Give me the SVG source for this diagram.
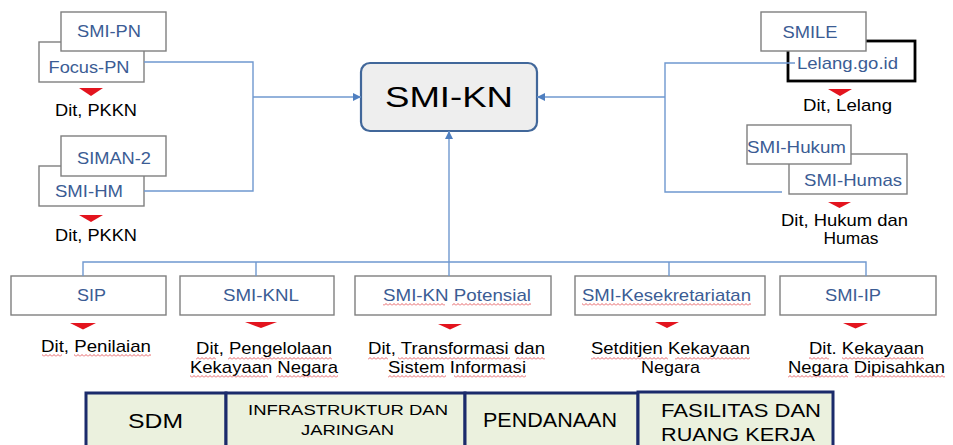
<svg xmlns="http://www.w3.org/2000/svg" width="953" height="445" viewBox="0 0 953 445">
<style>
.bx{fill:#ffffff;stroke:#7f7f7f;stroke-width:1.4}
.bt{font-family:"Liberation Sans",Arial,sans-serif;font-size:17px;fill:#3b5c94;text-anchor:middle}
.lb{font-family:"Liberation Sans",Arial,sans-serif;font-size:17px;fill:#000000;text-anchor:middle}
.tri{fill:#e3141e}
.cn{fill:none;stroke:#6f98cf;stroke-width:1.4}
.cell{fill:#ebf1de;stroke:#1b2b6b;stroke-width:3}
.ct{font-family:"Liberation Sans",Arial,sans-serif;fill:#000000;text-anchor:middle}
.sq{fill:url(#wave)}
</style>
<defs>
<marker id="ah" markerUnits="userSpaceOnUse" markerWidth="9" markerHeight="9" refX="8" refY="4" orient="auto">
<path d="M0 0 L8 4 L0 8 z" fill="#4f7fc0"/>
</marker>
<pattern id="wave" width="4" height="3" patternUnits="userSpaceOnUse">
<path d="M0 2.5 L2 0.5 L4 2.5" fill="none" stroke="#e0393e" stroke-width="0.8"/>
</pattern>
</defs>
<rect width="953" height="445" fill="#ffffff"/>

<g id="node-focus-pn">
<rect class="bx" x="39" y="42" width="105" height="40"/>
<text class="bt" x="89" y="73" textLength="81" lengthAdjust="spacingAndGlyphs">Focus-PN</text>
</g>
<g id="node-smi-pn">
<rect class="bx" x="61" y="12" width="105" height="39"/>
<text class="bt" x="109" y="37" textLength="64" lengthAdjust="spacingAndGlyphs">SMI-PN</text>
</g>
<g id="label-pkkn-1">
<polygon class="tri" points="79,88 103,88 91,96"/>
<text class="lb" x="96" y="115.5" textLength="82" lengthAdjust="spacingAndGlyphs">Dit, PKKN</text>
</g>

<g id="node-smi-hm">
<rect class="bx" x="39" y="166" width="105" height="40"/>
<text class="bt" x="89" y="197" textLength="68" lengthAdjust="spacingAndGlyphs">SMI-HM</text>
</g>
<g id="node-siman-2">
<rect class="bx" x="61" y="136" width="105" height="40"/>
<text class="bt" x="114" y="164" textLength="74" lengthAdjust="spacingAndGlyphs">SIMAN-2</text>
</g>
<g id="label-pkkn-2">
<polygon class="tri" points="79,215 103,215 91,222"/>
<text class="lb" x="96" y="240.5" textLength="82" lengthAdjust="spacingAndGlyphs">Dit, PKKN</text>
</g>

<g id="node-smi-kn">
<rect x="361" y="63" width="176" height="68" rx="9" ry="9" fill="#eeeeee" stroke="#41679a" stroke-width="2.2"/>
<text class="ct" x="449" y="107" font-size="30" textLength="128" lengthAdjust="spacingAndGlyphs">SMI-KN</text>
</g>

<g id="node-lelang">
<rect x="788" y="41" width="127" height="40" fill="#ffffff" stroke="#000000" stroke-width="2.8"/>
<text class="bt" x="847.5" y="68.5" textLength="101" lengthAdjust="spacingAndGlyphs">Lelang.go.id</text>
</g>
<g id="node-smile">
<rect class="bx" x="761" y="12" width="105" height="39"/>
<text class="bt" x="810" y="37.5" textLength="55" lengthAdjust="spacingAndGlyphs">SMILE</text>
</g>
<g id="label-lelang">
<polygon class="tri" points="828,89 852,89 840,96"/>
<text class="lb" x="847.5" y="110.5" textLength="89" lengthAdjust="spacingAndGlyphs">Dit, Lelang</text>
</g>

<g id="node-smi-humas">
<rect class="bx" x="789" y="154" width="118" height="40"/>
<text class="bt" x="853" y="185.5" textLength="98" lengthAdjust="spacingAndGlyphs">SMI-Humas</text>
</g>
<g id="node-smi-hukum">
<rect class="bx" x="747" y="125" width="104" height="39"/>
<text class="bt" x="796.5" y="152.5" textLength="99" lengthAdjust="spacingAndGlyphs">SMI-Hukum</text>
</g>
<g id="label-hukum">
<polygon class="tri" points="828,202 851,202 839.5,208"/>
<text class="lb" x="844.5" y="225.5" textLength="127" lengthAdjust="spacingAndGlyphs">Dit, Hukum dan</text>
<text class="lb" x="851" y="243.5" textLength="55" lengthAdjust="spacingAndGlyphs">Humas</text>
</g>

<g id="node-sip">
<rect class="bx" x="11" y="276" width="155" height="39"/>
<text class="bt" x="91.5" y="300.7" textLength="29" lengthAdjust="spacingAndGlyphs">SIP</text>
<polygon class="tri" points="70,323 96,323 83,329.5"/>
<text class="lb" x="96" y="352" textLength="110" lengthAdjust="spacingAndGlyphs">Dit, Penilaian</text>
<rect class="sq" x="42" y="354" width="20" height="3"/>
<rect class="sq" x="74" y="354" width="77" height="3"/>
</g>
<g id="node-smi-knl">
<rect class="bx" x="180" y="276" width="154" height="39"/>
<text class="bt" x="261" y="300.7" textLength="76" lengthAdjust="spacingAndGlyphs">SMI-KNL</text>
<polygon class="tri" points="245,322 277,322 261,328"/>
<text class="lb" x="264" y="354" textLength="136" lengthAdjust="spacingAndGlyphs">Dit, Pengelolaan</text>
<text class="lb" x="264" y="373" textLength="148" lengthAdjust="spacingAndGlyphs">Kekayaan Negara</text>
<rect class="sq" x="196" y="357" width="20" height="3"/>
<rect class="sq" x="228" y="357" width="104" height="3"/>
<rect class="sq" x="190" y="375" width="78" height="3"/>
<rect class="sq" x="276" y="375" width="62" height="3"/>
</g>
<g id="node-smi-kn-potensial">
<rect class="bx" x="355" y="276" width="196" height="39"/>
<text class="bt" x="457" y="300.7" textLength="148" lengthAdjust="spacingAndGlyphs">SMI-KN Potensial</text>
<rect class="sq" x="383" y="303" width="62" height="3"/>
<rect class="sq" x="452" y="303" width="79" height="3"/>
<polygon class="tri" points="438,324 462,324 450,329.5"/>
<text class="lb" x="456.5" y="354" textLength="177" lengthAdjust="spacingAndGlyphs">Dit, Transformasi dan</text>
<text class="lb" x="457" y="373" textLength="138" lengthAdjust="spacingAndGlyphs">Sistem Informasi</text>
<rect class="sq" x="368" y="357" width="20" height="3"/>
<rect class="sq" x="398" y="357" width="112" height="3"/>
<rect class="sq" x="516" y="357" width="29" height="3"/>
<rect class="sq" x="388" y="375" width="58" height="3"/>
<rect class="sq" x="454" y="375" width="72" height="3"/>
</g>
<g id="node-smi-kesekretariatan">
<rect class="bx" x="575" y="276" width="190" height="39"/>
<text class="bt" x="666.5" y="300.7" textLength="169" lengthAdjust="spacingAndGlyphs">SMI-Kesekretariatan</text>
<rect class="sq" x="582" y="303" width="169" height="3"/>
<polygon class="tri" points="655,322 679,322 667,328"/>
<text class="lb" x="670.5" y="354" textLength="159" lengthAdjust="spacingAndGlyphs">Setditjen Kekayaan</text>
<text class="lb" x="670.5" y="373" textLength="59" lengthAdjust="spacingAndGlyphs">Negara</text>
<rect class="sq" x="591" y="357" width="77" height="3"/>
<rect class="sq" x="675" y="357" width="75" height="3"/>
</g>
<g id="node-smi-ip">
<rect class="bx" x="780" y="276" width="156" height="39"/>
<text class="bt" x="853" y="300.7" textLength="56" lengthAdjust="spacingAndGlyphs">SMI-IP</text>
<polygon class="tri" points="843,323 868,323 855.5,328.5"/>
<text class="lb" x="866.5" y="354" textLength="115" lengthAdjust="spacingAndGlyphs">Dit. Kekayaan</text>
<text class="lb" x="866.5" y="373" textLength="157" lengthAdjust="spacingAndGlyphs">Negara Dipisahkan</text>
<rect class="sq" x="809" y="357" width="20" height="3"/>
<rect class="sq" x="842" y="357" width="82" height="3"/>
<rect class="sq" x="788" y="375" width="60" height="3"/>
<rect class="sq" x="855" y="375" width="90" height="3"/>
</g>

<g id="foundation">
<rect class="cell" x="86" y="393" width="140" height="60"/>
<rect class="cell" x="226" y="393" width="239" height="60"/>
<rect class="cell" x="465" y="393" width="173" height="60"/>
<rect class="cell" x="638" y="392" width="195" height="61"/>
<text class="ct" x="155.5" y="428" font-size="21" textLength="55" lengthAdjust="spacingAndGlyphs">SDM</text>
<text class="ct" x="348" y="415" font-size="15" textLength="200" lengthAdjust="spacingAndGlyphs">INFRASTRUKTUR DAN</text>
<text class="ct" x="347.5" y="435" font-size="15" textLength="93" lengthAdjust="spacingAndGlyphs">JARINGAN</text>
<text class="ct" x="550" y="427" font-size="20" textLength="134" lengthAdjust="spacingAndGlyphs">PENDANAAN</text>
<text class="ct" x="741" y="417" font-size="19" textLength="160" lengthAdjust="spacingAndGlyphs">FASILITAS DAN</text>
<text class="ct" x="738" y="441" font-size="19" textLength="154" lengthAdjust="spacingAndGlyphs">RUANG KERJA</text>
</g>

<g id="connectors">
<polyline class="cn" points="144,62 253,62 253,191 144,191"/>
<line class="cn" x1="253" y1="97" x2="361" y2="97" marker-end="url(#ah)"/>
<polyline class="cn" points="795,63 665,63 665,192 782,192"/>
<line class="cn" x1="665" y1="97" x2="537" y2="97" marker-end="url(#ah)"/>
<line class="cn" x1="449" y1="262" x2="449" y2="131" marker-end="url(#ah)"/>
<polyline class="cn" points="83,276 83,262 866,262 866,276"/>
<line class="cn" x1="256" y1="262" x2="256" y2="276"/>
<line class="cn" x1="449" y1="262" x2="449" y2="276"/>
<line class="cn" x1="669" y1="262" x2="669" y2="276"/>
</g>
</svg>
